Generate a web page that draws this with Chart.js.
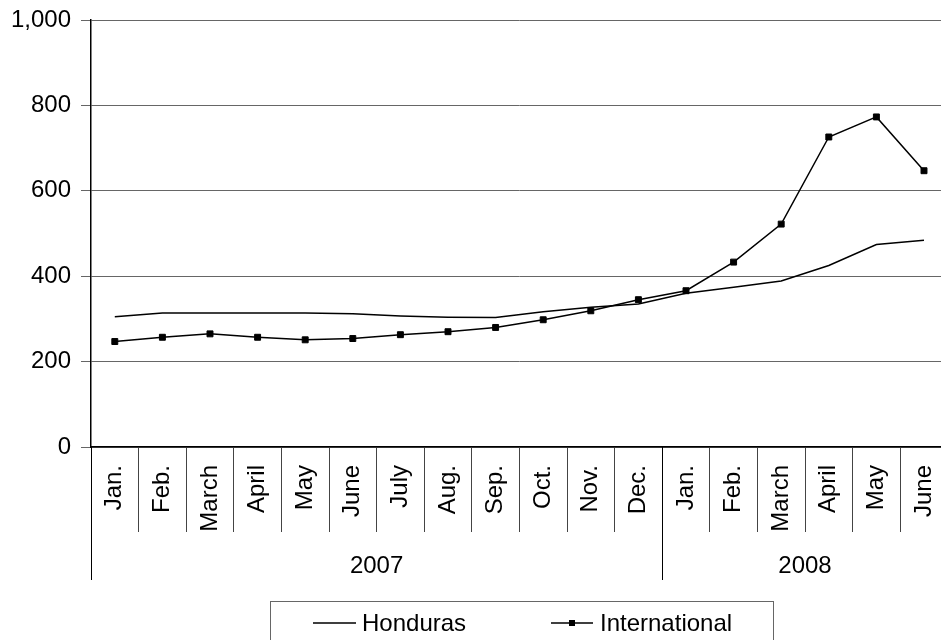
<!DOCTYPE html>
<html>
<head>
<meta charset="utf-8">
<script src="https://cdn.jsdelivr.net/npm/chart.js@4/dist/chart.umd.min.js"></script>
<style>
  html, body { margin: 0; padding: 0; background: #fff; overflow: hidden; }
  #wrap { width: 941px; height: 640px; overflow: hidden; }
</style>
</head>
<body>
<div id="wrap"><canvas id="c" width="953" height="640"></canvas></div>
<script>
// Monthly categories, grouped by year
const months = ['Jan.', 'Feb.', 'March', 'April', 'May', 'June', 'July', 'Aug.', 'Sep.', 'Oct.', 'Nov.', 'Dec.',
                'Jan.', 'Feb.', 'March', 'April', 'May', 'June'];
const years = ['2007', '2008'];
const monthsPerYear = [12, 6];

// Series values
const honduras      = [305, 314, 314, 314, 314, 312, 307, 304, 303, 317, 327, 335, 360, 374, 389, 425, 474, 484];
const international = [247, 257, 265, 257, 251, 254, 263, 270, 280, 298, 319, 345, 366, 433, 522, 726, 773, 647];

// Value axis
const yMin = 0, yMax = 1000, yStep = 200;

const FONT = "'Liberation Sans', Arial, sans-serif";

// Second row of the category axis (years) and the boxed legend below it
const groupRow = {
  id: 'groupRow',
  afterDraw(chart) {
    const { ctx, chartArea } = chart;
    const xs = chart.scales.x;
    const w = xs.getPixelForValue(1) - xs.getPixelForValue(0);
    const top = chartArea.bottom;
    ctx.save();
    ctx.strokeStyle = '#000';
    ctx.lineWidth = 1;
    ctx.fillStyle = '#000';
    ctx.font = '24px ' + FONT;
    ctx.textAlign = 'center';
    ctx.textBaseline = 'middle';
    let start = 0;
    years.forEach((yr, i) => {
      const n = monthsPerYear[i];
      const left = xs.getPixelForValue(start) - w / 2;
      const right = xs.getPixelForValue(start + n - 1) + w / 2;
      ctx.beginPath();
      ctx.moveTo(Math.round(left) + 0.5, top);
      ctx.lineTo(Math.round(left) + 0.5, top + 133);
      ctx.stroke();
      ctx.fillText(yr, (left + right) / 2, top + 119);
      start += n;
    });

    // Legend
    ctx.strokeStyle = '#666';
    ctx.strokeRect(270.5, 601.5, 503, 60);
    ctx.textAlign = 'left';
    const ly = 623;
    ctx.strokeStyle = '#000';
    ctx.lineWidth = 1.5;
    ctx.beginPath();
    ctx.moveTo(313, ly); ctx.lineTo(356, ly);
    ctx.moveTo(551, ly); ctx.lineTo(593, ly);
    ctx.stroke();
    ctx.fillRect(569, ly - 3, 6, 6);
    ctx.fillText(chart.data.datasets[0].label, 362, ly + 1);
    ctx.fillText(chart.data.datasets[1].label, 600, ly + 1);
    ctx.restore();
  }
};

Chart.defaults.font.family = FONT;
Chart.defaults.font.size = 24;
Chart.defaults.color = '#000';

new Chart(document.getElementById('c'), {
  type: 'line',
  data: {
    labels: months,
    datasets: [
      {
        label: 'Honduras',
        data: honduras,
        borderColor: '#000',
        borderWidth: 1.5,
        pointRadius: 0,
        tension: 0,
        fill: false
      },
      {
        label: 'International',
        data: international,
        borderColor: '#000',
        backgroundColor: '#000',
        borderWidth: 1.5,
        pointStyle: 'rect',
        pointRadius: 4.2,
        pointBorderWidth: 1,
        pointBackgroundColor: '#000',
        pointBorderColor: '#000',
        tension: 0,
        fill: false
      }
    ]
  },
  options: {
    responsive: false,
    animation: false,
    devicePixelRatio: 1,
    layout: { padding: { top: 20, right: 0, left: 0, bottom: 0 } },
    plugins: {
      legend: { display: false },
      tooltip: { enabled: false }
    },
    scales: {
      x: {
        type: 'category',
        offset: true,
        grid: {
          offset: true,
          drawOnChartArea: false,
          drawTicks: true,
          tickLength: 85,
          color: '#444',
          lineWidth: 1
        },
        border: { color: '#000', width: 1.5 },
        ticks: {
          autoSkip: false,
          minRotation: 90,
          maxRotation: 90,
          padding: -67,
          font: { size: 24 }
        },
        afterFit(scale) { scale.height = 193; }
      },
      y: {
        min: yMin,
        max: yMax,
        ticks: {
          stepSize: yStep,
          padding: 10,
          font: { size: 24 },
          callback: v => v.toLocaleString('en-US')
        },
        grid: {
          color: '#666',
          lineWidth: 1,
          drawTicks: true,
          tickLength: 10
        },
        border: { color: '#000', width: 1.5 },
        afterFit(scale) {
          scale.width = 91;
          scale.paddingTop = 0;
          scale.paddingBottom = 0;
        }
      }
    }
  },
  plugins: [groupRow]
});
</script>
</body>
</html>
